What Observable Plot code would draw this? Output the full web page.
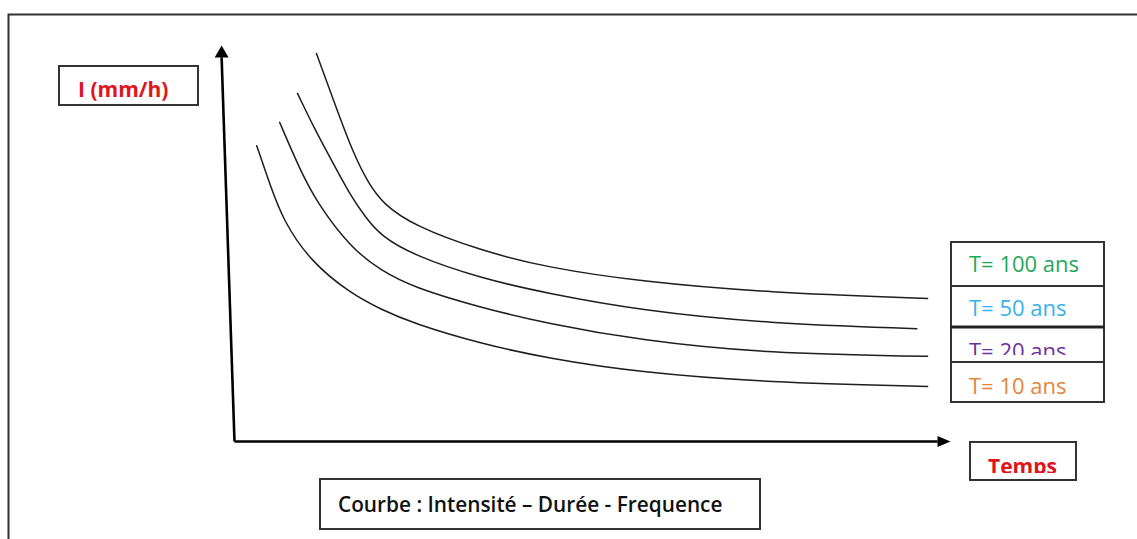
<!DOCTYPE html>
<html>
<head>
<meta charset="utf-8">
<script src="https://cdn.jsdelivr.net/npm/d3@7"></script>
<script src="https://cdn.jsdelivr.net/npm/@observablehq/plot@0.6"></script>
<style>
  html, body { margin: 0; padding: 0; background: #ffffff; }
  #wrap { position: relative; width: 1137px; height: 539px; overflow: hidden; }
  #wrap svg { position: absolute; left: 0; top: 0; }
</style>
</head>
<body>
<div id="wrap"></div>
<script>
// ---- Data (schematic units: time 0..100, intensity 0..100) ----
const seriesLabels = ["T= 100 ans", "T= 50 ans", "T= 20 ans", "T= 10 ans"];
const seriesColors = ["#22a85a", "#35b2e8", "#7030a0", "#e3863a"];

const time100 = [11.45, 14.1, 16.6, 18.7, 20.7, 25.0, 34.4, 43.7, 56.7, 74.4, 96.8];
const intensity100 = [98.0, 84.8, 72.7, 65.2, 60.1, 54.5, 48.2, 43.9, 40.4, 37.6, 36.1];

const time50 = [8.8, 11.3, 13.8, 16.2, 18.3, 20.4, 25.0, 34.4, 43.7, 56.7, 74.4, 95.3];
const intensity50 = [87.9, 78.5, 70.2, 62.1, 56.6, 52.0, 47.0, 41.2, 37.4, 33.1, 29.8, 28.5];

const time20 = [6.3, 9.2, 11.6, 16.2, 20.4, 25.0, 34.4, 43.7, 56.7, 74.4, 96.8];
const intensity20 = [80.6, 68.4, 60.1, 49.0, 43.2, 38.9, 33.8, 29.8, 25.5, 22.2, 21.5];

const time10 = [3.1, 5.0, 6.8, 10.6, 16.2, 20.4, 25.0, 34.4, 43.7, 56.7, 74.4, 96.8];
const intensity10 = [74.7, 64.6, 55.8, 45.5, 37.4, 33.4, 29.8, 24.7, 21.0, 17.4, 14.9, 13.9];

// axis extents (data units): x axis to t = 100, y axis to I = 100 (hand-drawn axis leans slightly left)
const axisTimeEnd = 100;
const axisIntensityEnd = 100;
const yAxisLean = -1.8;

const yLabel = "I (mm/h)";
const xLabel = "Temps";
const caption = "Courbe : Intensité – Durée - Frequence";

// ---- Build table ----
const series = [
  [seriesLabels[0], time100, intensity100],
  [seriesLabels[1], time50, intensity50],
  [seriesLabels[2], time20, intensity20],
  [seriesLabels[3], time10, intensity10]
];
const curves = series.flatMap(([T, ts, is]) => ts.map((t, i) => ({T, t, I: is[i]})));

const axes = [
  {x1: 0, y1: 0, x2: axisTimeEnd * 0.982, y2: 0},
  {x1: 0, y1: 0, x2: yAxisLean, y2: axisIntensityEnd * 0.97}
];
const heads = [
  {t: axisTimeEnd, I: 0, dir: "right"},
  {t: yAxisLean, I: axisIntensityEnd, dir: "up"}
];

// filled triangle arrowheads (tip at the point)
const headRight = {draw(ctx, size) { const r = Math.sqrt(size / Math.PI); ctx.moveTo(0, 0); ctx.lineTo(-r * 1.3, -r * 0.55); ctx.lineTo(-r * 1.3, r * 0.55); ctx.closePath(); }};
const headUp = {draw(ctx, size) { const r = Math.sqrt(size / Math.PI); ctx.moveTo(0, 0); ctx.lineTo(-r * 0.7, r * 1.2); ctx.lineTo(r * 0.7, r * 1.2); ctx.closePath(); }};

const chart = Plot.plot({
  width: 1137,
  height: 539,
  marginLeft: 234,
  marginRight: 187,
  marginTop: 45,
  marginBottom: 98,
  style: {background: "transparent", overflow: "visible"},
  x: {domain: [0, 100], axis: null},
  y: {domain: [0, 100], axis: null},
  marks: [
    Plot.line(curves, {x: "t", y: "I", z: "T", curve: "basis", stroke: "#1e1e1e", strokeWidth: 1.5}),
    Plot.link(axes, {x1: "x1", y1: "y1", x2: "x2", y2: "y2", stroke: "#000", strokeWidth: 2.6}),
    Plot.dot(heads.filter(d => d.dir === "right"), {x: "t", y: "I", symbol: headRight, r: 10, fill: "#000", stroke: "none"}),
    Plot.dot(heads.filter(d => d.dir === "up"), {x: "t", y: "I", symbol: headUp, r: 10, fill: "#000", stroke: "none"})
  ]
});
const wrap = document.getElementById("wrap");
wrap.appendChild(chart);

// ---- Annotation overlay: page frame and text boxes ----
const FONT = "'Open Sans', 'DejaVu Sans', sans-serif";
const ov = d3.create("svg").attr("width", 1137).attr("height", 539).attr("font-family", FONT);
const defs = ov.append("defs");
defs.append("clipPath").attr("id", "clip20").append("rect").attr("x", 940).attr("y", 320).attr("width", 200).attr("height", 35);
defs.append("clipPath").attr("id", "clipTemps").append("rect").attr("x", 960).attr("y", 440).attr("width", 200).attr("height", 33);

ov.append("path").attr("d", "M8.5,539V14.5H1137").attr("fill", "none").attr("stroke", "#333").attr("stroke-width", 2);

function box(x, y, w, h) {
  ov.append("rect").attr("x", x).attr("y", y).attr("width", w).attr("height", h)
    .attr("fill", "#fff").attr("stroke", "#333").attr("stroke-width", 2);
}
// y label
box(59, 66, 139, 39);
ov.append("text").attr("x", 78).attr("y", 97).attr("fill", "#e0141c").attr("font-weight", 700).attr("font-size", 21).text(yLabel);

// legend
box(951, 242, 153, 160);
[286, 362].forEach(y => ov.append("line").attr("x1", 951).attr("x2", 1104).attr("y1", y).attr("y2", y).attr("stroke", "#333").attr("stroke-width", 2));
ov.append("line").attr("x1", 951).attr("x2", 1104).attr("y1", 327).attr("y2", 327).attr("stroke", "#222").attr("stroke-width", 3);
const baselines = [272, 316, 359, 394];
seriesLabels.forEach((lab, i) => {
  const t = ov.append("text").attr("x", 969).attr("y", baselines[i]).attr("fill", seriesColors[i]).attr("font-size", 22).text(lab);
  if (i === 2) t.attr("clip-path", "url(#clip20)");
});

// x label
box(970, 442, 106, 38);
ov.append("text").attr("x", 988).attr("y", 474).attr("fill", "#e0141c").attr("font-weight", 700).attr("font-size", 21)
  .attr("clip-path", "url(#clipTemps)").text(xLabel);

// caption
box(320, 479, 440, 50);
ov.append("text").attr("x", 338).attr("y", 512).attr("fill", "#111").attr("font-weight", 600).attr("font-size", 20.8).text(caption);

wrap.appendChild(ov.node());
</script>
</body>
</html>
